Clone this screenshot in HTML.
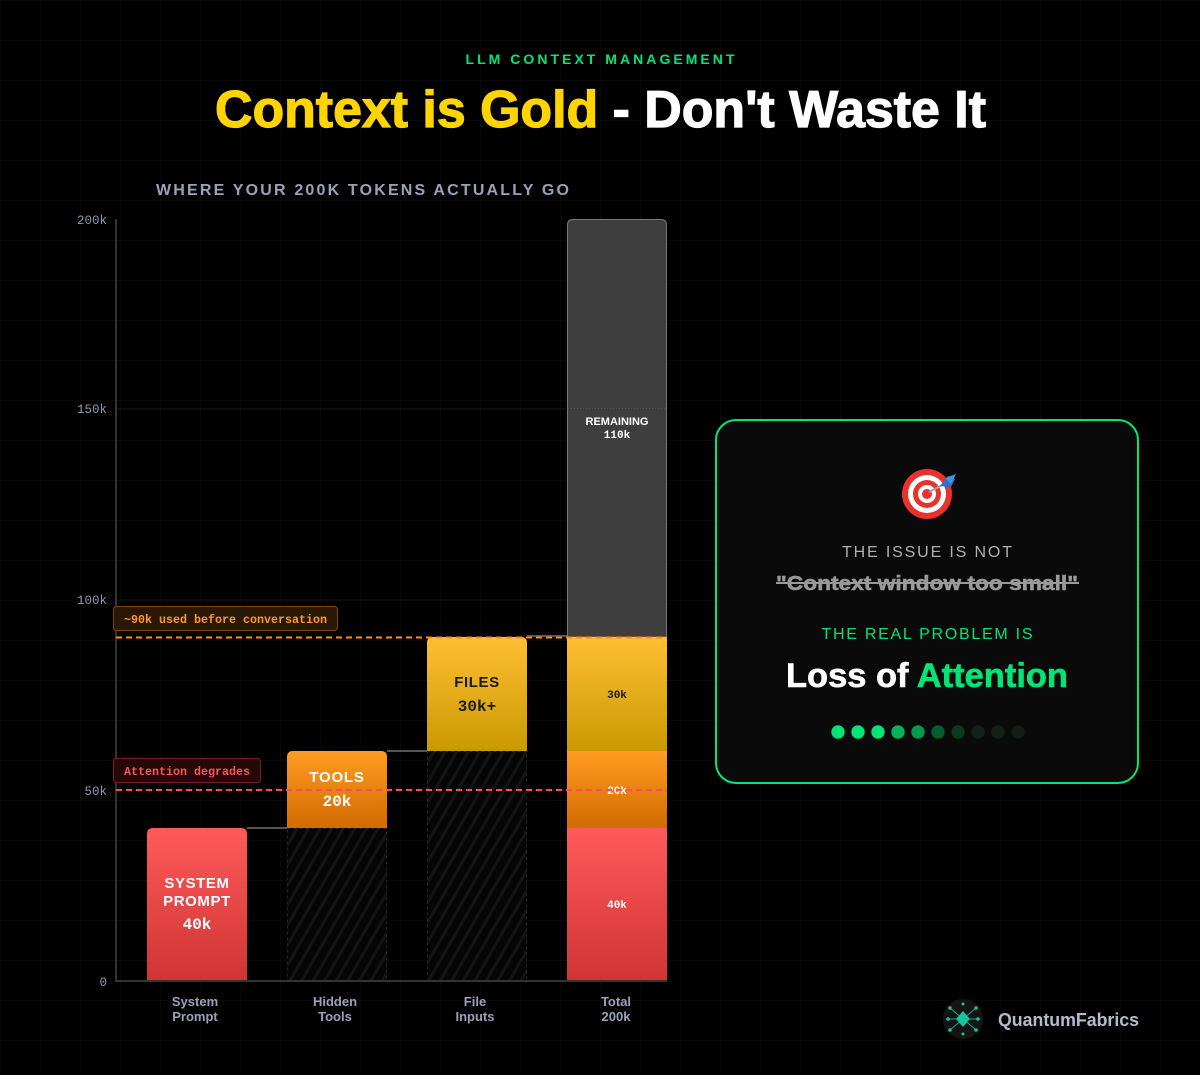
<!DOCTYPE html>
<html><head><meta charset="utf-8"><style>
html,body{margin:0;padding:0;background:#000;}
svg{display:block;}
</style></head><body>
<svg width="1200" height="1075" viewBox="0 0 1200 1075" xmlns="http://www.w3.org/2000/svg">
<defs>
<pattern id="grid" width="40" height="40" patternUnits="userSpaceOnUse">
<path d="M40 0 L0 0 0 40" fill="none" stroke="#101010" stroke-width="1"/>
</pattern>
<pattern id="hatch" width="10" height="10" patternUnits="userSpaceOnUse" patternTransform="rotate(30)">
<rect width="10" height="10" fill="#050505"/>
<rect width="3" height="10" fill="#141414"/>
</pattern>
<linearGradient id="gRed" x1="0" y1="0" x2="0" y2="1"><stop offset="0" stop-color="#ff5a5a"/><stop offset="1" stop-color="#cf3434"/></linearGradient>
<linearGradient id="gOr" x1="0" y1="0" x2="0" y2="1"><stop offset="0" stop-color="#ff9d22"/><stop offset="1" stop-color="#d26a00"/></linearGradient>
<linearGradient id="gGold" x1="0" y1="0" x2="0" y2="1"><stop offset="0" stop-color="#ffbe33"/><stop offset="1" stop-color="#c99a00"/></linearGradient>
</defs>
<rect width="1200" height="1075" fill="#000"/>
<rect width="1200" height="1075" fill="url(#grid)"/>

<!-- header -->
<text x="600" y="64" text-anchor="middle" font-family="Liberation Sans, sans-serif" font-weight="700" font-size="14" fill="#00e676" textLength="269" lengthAdjust="spacing">LLM CONTEXT MANAGEMENT</text>
<text x="215" y="127" font-family="Liberation Sans, sans-serif" font-weight="700" font-size="52" stroke-width="1.2" textLength="771" lengthAdjust="spacingAndGlyphs"><tspan fill="#ffd400" stroke="#ffd400">Context is Gold</tspan><tspan fill="#ffffff" stroke="#ffffff"> - Don't Waste It</tspan></text>

<text x="156" y="195" font-family="Liberation Sans, sans-serif" font-weight="700" font-size="16" fill="#9aa3b5" textLength="413" lengthAdjust="spacing">WHERE YOUR 200K TOKENS ACTUALLY GO</text>

<!-- y axis labels -->
<g font-family="Liberation Mono, DejaVu Sans Mono, monospace" font-size="12.5" fill="#8d99ae" text-anchor="end">
<text x="107" y="224">200k</text>
<text x="107" y="413">150k</text>
<text x="107" y="604">100k</text>
<text x="107" y="795">50k</text>
<text x="107" y="986">0</text>
</g>
<!-- gridlines -->
<g stroke="#191919" stroke-width="1">
<line x1="116" y1="409" x2="667" y2="409"/>
<line x1="116" y1="600" x2="667" y2="600"/>
<line x1="116" y1="790" x2="667" y2="790"/>
</g>

<!-- hatched areas -->
<rect x="287.5" y="828.5" width="99" height="152" fill="url(#hatch)" stroke="#262626" stroke-dasharray="3 3"/>
<rect x="427.5" y="751.5" width="99" height="229" fill="url(#hatch)" stroke="#262626" stroke-dasharray="3 3"/>

<!-- connectors -->
<g stroke="#555" stroke-width="2">
<line x1="247" y1="828" x2="287" y2="828"/>
<line x1="387" y1="751" x2="427" y2="751"/>
<line x1="527" y1="636" x2="567" y2="636"/>
</g>

<!-- System prompt bar -->
<path d="M147 981 V834 Q147 828 153 828 H241 Q247 828 247 834 V981 Z" fill="url(#gRed)"/>
<g font-family="Liberation Sans, sans-serif" font-weight="700" font-size="15" fill="#fff" text-anchor="middle" letter-spacing="0.6">
<text x="197" y="888">SYSTEM</text>
<text x="197" y="906">PROMPT</text>
</g>
<text x="197" y="929" font-family="Liberation Mono, DejaVu Sans Mono, monospace" font-weight="700" font-size="16" fill="#fff" text-anchor="middle">40k</text>

<!-- Tools bar -->
<path d="M287 828 V757 Q287 751 293 751 H381 Q387 751 387 757 V828 Z" fill="url(#gOr)"/>
<text x="337" y="782" font-family="Liberation Sans, sans-serif" font-weight="700" font-size="15" fill="#fff" text-anchor="middle" letter-spacing="0.8">TOOLS</text>
<text x="337" y="806" font-family="Liberation Mono, DejaVu Sans Mono, monospace" font-weight="700" font-size="16" fill="#fff" text-anchor="middle">20k</text>

<!-- Files bar -->
<path d="M427 751 V643 Q427 637 433 637 H521 Q527 637 527 643 V751 Z" fill="url(#gGold)"/>
<text x="477" y="687" font-family="Liberation Sans, sans-serif" font-weight="700" font-size="15" fill="#1a1a1a" text-anchor="middle" letter-spacing="0.6">FILES</text>
<text x="477" y="711" font-family="Liberation Mono, DejaVu Sans Mono, monospace" font-weight="700" font-size="16" fill="#1a1a1a" text-anchor="middle">30k+</text>

<!-- Total bar -->
<path d="M567.5 637 V225 Q567.5 219.5 573 219.5 H661 Q666.5 219.5 666.5 225 V637 Z" fill="#3e3e3e" stroke="#777" stroke-width="1"/>
<rect x="567" y="637" width="100" height="114" fill="url(#gGold)"/>
<rect x="567" y="751" width="100" height="77" fill="url(#gOr)"/>
<rect x="567" y="828" width="100" height="153" fill="url(#gRed)"/>
<line x1="568" y1="408.5" x2="666" y2="408.5" stroke="#555" stroke-dasharray="1 2"/>
<text x="617" y="425" font-family="Liberation Sans, sans-serif" font-weight="700" font-size="11" fill="#fff" text-anchor="middle">REMAINING</text>
<text x="617" y="438" font-family="Liberation Mono, DejaVu Sans Mono, monospace" font-weight="700" font-size="11" fill="#fff" text-anchor="middle">110k</text>
<text x="617" y="698" font-family="Liberation Mono, DejaVu Sans Mono, monospace" font-weight="700" font-size="11" fill="#1a1a1a" text-anchor="middle">30k</text>
<text x="617" y="794" font-family="Liberation Mono, DejaVu Sans Mono, monospace" font-weight="700" font-size="11" fill="#fff" text-anchor="middle">20k</text>
<text x="617" y="908" font-family="Liberation Mono, DejaVu Sans Mono, monospace" font-weight="700" font-size="11" fill="#fff" text-anchor="middle">40k</text>

<!-- axes -->
<line x1="116" y1="219" x2="116" y2="982" stroke="#333" stroke-width="2"/>
<line x1="115" y1="981" x2="667" y2="981" stroke="#333" stroke-width="2"/>

<!-- threshold lines -->
<line x1="116" y1="637.5" x2="667" y2="637.5" stroke="#ff8c1a" stroke-width="2" stroke-dasharray="6 4"/>
<line x1="116" y1="790" x2="667" y2="790" stroke="#ff4d5a" stroke-width="2" stroke-dasharray="6 4"/>

<rect x="113.5" y="606.5" width="224" height="24" rx="3" fill="#2a1804" stroke="#7a4510"/>
<text x="124" y="623" font-family="Liberation Mono, DejaVu Sans Mono, monospace" font-weight="700" font-size="11.7" fill="#ff9a2a" textLength="203" lengthAdjust="spacing">~90k used before conversation</text>
<rect x="113.5" y="758.5" width="147" height="24" rx="3" fill="#260808" stroke="#772020"/>
<text x="124" y="775" font-family="Liberation Mono, DejaVu Sans Mono, monospace" font-weight="700" font-size="11.7" fill="#ff5555" textLength="126" lengthAdjust="spacing">Attention degrades</text>

<!-- x labels -->
<g font-family="Liberation Sans, sans-serif" font-weight="700" font-size="13" fill="#9aa3b5" text-anchor="middle">
<text x="195" y="1006">System</text><text x="195" y="1021">Prompt</text>
<text x="335" y="1006">Hidden</text><text x="335" y="1021">Tools</text>
<text x="475" y="1006">File</text><text x="475" y="1021">Inputs</text>
<text x="616" y="1006">Total</text><text x="616" y="1021">200k</text>
</g>

<!-- card -->
<rect x="716" y="420" width="422" height="363" rx="20" fill="#0a0a0a" stroke="#00e676" stroke-width="2"/>
<!-- target icon -->
<g>
<circle cx="927" cy="494" r="25" fill="#e8322c"/>
<circle cx="927" cy="494" r="19" fill="#ffffff"/>
<circle cx="927" cy="494" r="14" fill="#e8322c"/>
<circle cx="927" cy="494" r="9" fill="#ffffff"/>
<circle cx="927" cy="494" r="5" fill="#e8322c"/>
<line x1="929" y1="492" x2="948" y2="482" stroke="#9aa" stroke-width="2"/>
<path d="M940 486 L948 476 L955 479 L951 487 Z" fill="#2a6fd0"/>
<path d="M945 478 L956 474 L951 484 Z" fill="#4a90e2"/>
</g>
<text x="927" y="557" font-family="Liberation Sans, sans-serif" font-size="16" fill="#b0b0b0" text-anchor="middle" textLength="170" lengthAdjust="spacing">THE ISSUE IS NOT</text>
<text x="927" y="590" font-family="Liberation Sans, sans-serif" font-weight="700" font-size="20" fill="#9a9a9a" stroke="#9a9a9a" stroke-width="0.5" text-anchor="middle" textLength="302" lengthAdjust="spacingAndGlyphs">"Context window too small"</text>
<line x1="776" y1="583" x2="1079" y2="583" stroke="#9a9a9a" stroke-width="2"/>
<text x="927" y="639" font-family="Liberation Sans, sans-serif" font-size="16" fill="#00e676" text-anchor="middle" textLength="211" lengthAdjust="spacing">THE REAL PROBLEM IS</text>
<text x="927" y="687" font-family="Liberation Sans, sans-serif" font-weight="700" font-size="34" stroke-width="0.6" text-anchor="middle" textLength="282" lengthAdjust="spacingAndGlyphs"><tspan fill="#fff" stroke="#fff">Loss of </tspan><tspan fill="#00e676" stroke="#00e676">Attention</tspan></text>
<g>
<circle cx="838" cy="732" r="6.7" fill="#00e676"/>
<circle cx="858" cy="732" r="6.7" fill="#00e676"/>
<circle cx="878" cy="732" r="6.7" fill="#00e676"/>
<circle cx="898" cy="732" r="6.7" fill="#00b35c"/>
<circle cx="918" cy="732" r="6.7" fill="#009a4e"/>
<circle cx="938" cy="732" r="6.7" fill="#005f30"/>
<circle cx="958" cy="732" r="6.7" fill="#0b3a22"/>
<circle cx="978" cy="732" r="6.7" fill="#122219"/>
<circle cx="998" cy="732" r="6.7" fill="#122018"/>
<circle cx="1018" cy="732" r="6.7" fill="#141c17"/>
</g>

<!-- logo -->
<circle cx="963" cy="1019" r="20" fill="#141414"/>
<g stroke="#14a88a" stroke-width="1">
<line x1="963" y1="1019" x2="950" y2="1008"/><line x1="963" y1="1019" x2="976" y2="1008"/>
<line x1="963" y1="1019" x2="950" y2="1030"/><line x1="963" y1="1019" x2="976" y2="1030"/>
<line x1="963" y1="1019" x2="949" y2="1019"/><line x1="963" y1="1019" x2="977" y2="1019"/>
</g>
<path d="M963 1011 L970 1019 L963 1027 L956 1019 Z" fill="#19c3a0"/>
<g fill="#19c3a0">
<circle cx="950" cy="1008" r="1.8"/><circle cx="976" cy="1008" r="1.8"/>
<circle cx="950" cy="1030" r="1.8"/><circle cx="976" cy="1030" r="1.8"/>
<circle cx="948" cy="1019" r="1.8"/><circle cx="978" cy="1019" r="1.8"/>
<circle cx="963" cy="1004" r="1.5"/><circle cx="963" cy="1034" r="1.5"/>
</g>
<text x="998" y="1026" font-family="Liberation Sans, sans-serif" font-weight="700" font-size="18" fill="#b4bccc" textLength="141" lengthAdjust="spacingAndGlyphs">QuantumFabrics</text>
</svg>
</body></html>
